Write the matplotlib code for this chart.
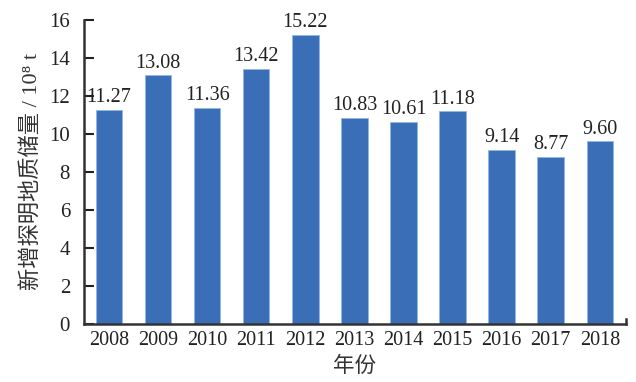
import matplotlib
matplotlib.use("Agg")
import matplotlib.pyplot as plt

years = ["2008", "2009", "2010", "2011", "2012", "2013", "2014", "2015", "2016", "2017", "2018"]
values = [11.27, 13.08, 11.36, 13.42, 15.22, 10.83, 10.61, 11.18, 9.14, 8.77, 9.60]
value_labels = ["11.27", "13.08", "11.36", "13.42", "15.22", "10.83", "10.61", "11.18", "9.14", "8.77", "9.60"]
yticks = [0, 2, 4, 6, 8, 10, 12, 14, 16]

serif = ["Liberation Serif", "DejaVu Serif"]
cjk = ["Liberation Serif", "Noto Sans CJK SC", "DejaVu Sans"]

fig = plt.figure(figsize=(6.36, 3.82), dpi=100)
ax = fig.add_axes([0.132, 0.152, 0.852, 0.796])

x = list(range(len(years)))
bars = ax.bar(x, values, width=0.54, color="#3A6EB6", edgecolor="#8FB8E6", linewidth=0.6)
for xi, v, lab in zip(x, values, value_labels):
    ax.text(xi, v + 0.15, lab, ha="center", va="bottom", fontsize=14.5, family=serif, color="#222222")

ax.set_xlim(-0.51, 10.53)
ax.set_ylim(0, 16)
ax.set_yticks(yticks)
ax.set_yticklabels([str(t) for t in yticks], fontsize=15, family=serif)
ax.set_xticks(x)
ax.set_xticklabels(years, fontsize=14.5, family=serif)
ax.tick_params(axis="y", direction="in", length=7, width=1.5, pad=10, colors="#222222")
ax.tick_params(axis="x", length=0, pad=5, colors="#222222")

for s in ["top", "right"]:
    ax.spines[s].set_visible(False)
for s in ["left", "bottom"]:
    ax.spines[s].set_linewidth(1.8)
    ax.spines[s].set_color("#333333")

# small end tick at right of x-axis
ax.plot([10.53, 10.53], [0, 0.25], color="#333333", lw=1.8, clip_on=False)

ax.set_xlabel("年份", fontsize=15.5, family=cjk, color="#333333", labelpad=5)
ax.set_ylabel("新增探明地质储量 / 10⁸ t", fontsize=16, family=cjk, color="#333333", labelpad=5)

fig.savefig("out.png", dpi=100)
